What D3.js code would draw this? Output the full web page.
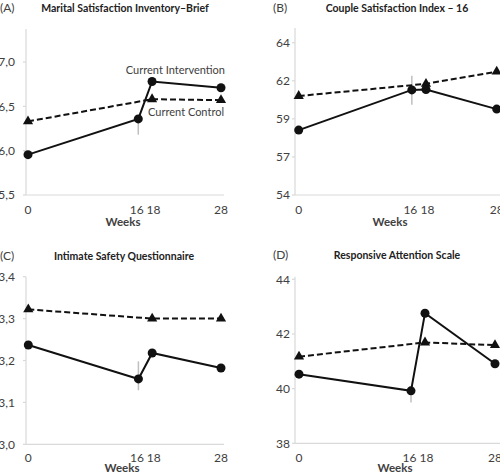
<!DOCTYPE html>
<html><head><meta charset="utf-8">
<script src="https://cdn.jsdelivr.net/npm/d3@7/dist/d3.min.js"></script>
<style>
body{margin:0;background:#fff;}
svg{display:block;font-family:Lato,"Open Sans",sans-serif;}
</style></head>
<body><svg id="c" width="500" height="472"></svg>
<script>
// ---- data ----
const weeks = [0, 16, 18, 28];
const controlWeeks = [0, 18, 28];
const xTickLabels = ["0", "16", "18", "28"];
const panelLetters = ["(A)", "(B)", "(C)", "(D)"];
const panelTitles = ["Marital Satisfaction Inventory\u2013Brief", "Couple Satisfaction Index \u2013 16",
  "Intimate Safety Questionnaire", "Responsive Attention Scale"];

const interventionA = [5.955, 6.358, 6.78, 6.71];
const controlA = [6.33, 6.58, 6.57];
const barA = [6.18, 6.36];
const yTicksA = [5.5, 6.0, 6.5, 7.0];
const yLabelsA = ["5,5", "6,0", "6,5", "7,0"];

const interventionB = [58.26, 60.9, 60.93, 59.64];
const controlB = [60.5, 61.3, 62.1];
const barB = [59.92, 61.83];
const yTicksB = [54, 56.5, 59, 61.5, 64];
const yLabelsB = ["54", "57", "59", "62", "64"];

const interventionC = [3.237, 3.156, 3.218, 3.182];
const controlC = [3.322, 3.30, 3.30];
const barC = [3.129, 3.198];
const yTicksC = [3.0, 3.1, 3.2, 3.3, 3.4];
const yLabelsC = ["3,0", "3,1", "3,2", "3,3", "3,4"];

const interventionD = [40.53, 39.92, 42.76, 40.91];
const controlD = [41.17, 41.69, 41.59];
const barD = [39.49, 39.91];
const yTicksD = [38, 40, 42, 44];
const yLabelsD = ["38", "40", "42", "44"];

const seriesLabels = ["Current Intervention", "Current Control"];

// ---- layout (pixels) ----
const panels = [
  {inter: interventionA, ctrl: controlA, bar: barA, ticks: yTicksA, labels: yLabelsA, pad: 11,
   ax: 26, x0: 28, x1: 221, axEnd: 224, yb: 195, yt: 62, top: 29, titleX: 125, titleY: 8, letterX: 0, tickY: 210, weeksY: 222, weeksX: 123},
  {inter: interventionB, ctrl: controlB, bar: barB, ticks: yTicksB, labels: yLabelsB, pad: 5,
   ax: 295, x0: 298.7, x1: 496.7, axEnd: 502, yb: 195, yt: 42.7, top: 28, titleX: 397, titleY: 8, letterX: 273, tickY: 210, weeksY: 222, weeksX: 390},
  {inter: interventionC, ctrl: controlC, bar: barC, ticks: yTicksC, labels: yLabelsC, pad: 11,
   ax: 26, x0: 28.3, x1: 221, axEnd: 224, yb: 444.3, yt: 276.7, top: 276.7, titleX: 124, titleY: 256, letterX: 0, tickY: 457.5, weeksY: 468, weeksX: 122},
  {inter: interventionD, ctrl: controlD, bar: barD, ticks: yTicksD, labels: yLabelsD, pad: 5,
   ax: 295, x0: 299, x1: 495, axEnd: 502, yb: 443.3, yt: 279.3, top: 276.7, titleX: 397, titleY: 255, letterX: 273, tickY: 457.5, weeksY: 468, weeksX: 395}
];

const svg = d3.select("#c");
const axisColor = "#d9d9d9", textColor = "#404040";

panels.forEach((p, i) => {
  const g = svg.append("g");
  const x = d3.scaleLinear().domain([0, 28]).range([p.x0, p.x1]);
  const y = d3.scaleLinear().domain([p.ticks[0], p.ticks[p.ticks.length - 1]]).range([p.yb, p.yt]);

  // y axis
  const ya = g.append("g").attr("transform", `translate(${p.ax},0)`)
    .call(d3.axisLeft(y).tickValues(p.ticks).tickFormat((d, k) => p.labels[k]).tickSize(0).tickPadding(p.pad));
  ya.select(".domain").remove();
  ya.selectAll("text").attr("fill", textColor).style("font-size", "12px").style("font-family", "Lato,'Open Sans',sans-serif");
  g.append("line").attr("x1", p.ax).attr("x2", p.ax).attr("y1", p.yb).attr("y2", p.top)
    .attr("stroke", axisColor).attr("stroke-width", 1.2);
  p.ticks.forEach(t => g.append("line").attr("x1", p.ax - 3).attr("x2", p.ax).attr("y1", y(t)).attr("y2", y(t))
    .attr("stroke", axisColor).attr("stroke-width", 1.2));

  // x axis
  g.append("line").attr("x1", p.ax).attr("x2", p.axEnd).attr("y1", p.yb).attr("y2", p.yb)
    .attr("stroke", axisColor).attr("stroke-width", 1.2);
  weeks.forEach((w, k) => {
    g.append("text").attr("x", x(w) + (k === 1 ? -1.5 : (k === 2 ? 1.5 : 0))).attr("y", p.tickY).attr("dy", "0.35em")
      .attr("text-anchor", "middle").attr("fill", textColor).style("font-size", "12px").text(xTickLabels[k]);
  });
  g.append("text").attr("x", p.weeksX).attr("y", p.weeksY).attr("dy", "0.35em").attr("text-anchor", "middle")
    .attr("fill", textColor).style("font-size", "11.5px").style("font-weight", "bold").text("Weeks");

  // titles
  g.append("text").attr("x", p.letterX).attr("y", p.titleY).attr("dy", "0.35em").attr("fill", textColor)
    .style("font-size", "12px").text(panelLetters[i]);
  g.append("text").attr("x", p.titleX).attr("y", p.titleY).attr("dy", "0.35em").attr("text-anchor", "middle")
    .attr("fill", "#222").style("font-size", "10.5px").style("font-weight", "bold").text(panelTitles[i]);

  // gray bar at week 16
  g.append("line").attr("x1", x(weeks[1])).attr("x2", x(weeks[1])).attr("y1", y(p.bar[0])).attr("y2", y(p.bar[1]))
    .attr("stroke", "#bfbfbf").attr("stroke-width", 1.5);

  // control (dashed)
  const line = d3.line().x(d => x(d[0])).y(d => y(d[1]));
  const cData = controlWeeks.map((w, k) => [w, p.ctrl[k]]);
  g.append("path").attr("d", line(cData)).attr("fill", "none").attr("stroke", "#111")
    .attr("stroke-width", 2).attr("stroke-dasharray", "6,3");
  const tri = d3.symbol().type(d3.symbolTriangle).size(45);
  g.selectAll(".tri").data(cData).join("path").attr("d", tri)
    .attr("transform", d => `translate(${x(d[0])},${y(d[1])})`).attr("fill", "#111");

  // intervention (solid)
  const iData = weeks.map((w, k) => [w, p.inter[k]]);
  g.append("path").attr("d", line(iData)).attr("fill", "none").attr("stroke", "#111").attr("stroke-width", 2);
  g.selectAll(".dot").data(iData).join("circle").attr("cx", d => x(d[0])).attr("cy", d => y(d[1]))
    .attr("r", 4.5).attr("fill", "#111");

  if (i === 0) {
    g.append("text").attr("x", 225).attr("y", 70).attr("dy", "0.35em").attr("text-anchor", "end")
      .attr("fill", textColor).style("font-size", "11px").text(seriesLabels[0]);
    g.append("text").attr("x", 224).attr("y", 112).attr("dy", "0.35em").attr("text-anchor", "end")
      .attr("fill", textColor).style("font-size", "11px").text(seriesLabels[1]);
  }
});
</script></body></html>
